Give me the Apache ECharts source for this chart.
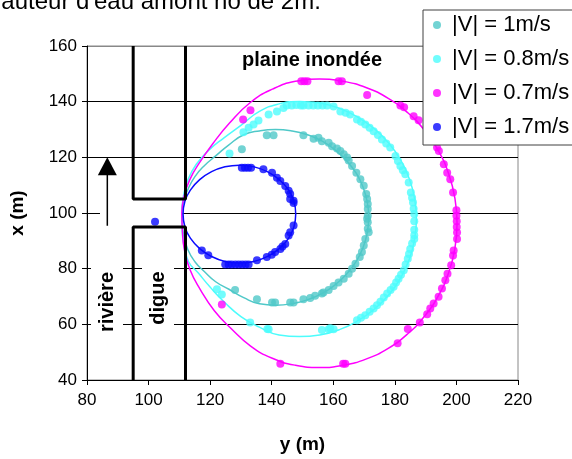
<!DOCTYPE html>
<html>
<head>
<meta charset="utf-8">
<script src="https://cdn.jsdelivr.net/npm/echarts@6/dist/echarts.min.js"></script>
<style>
  html, body { margin: 0; padding: 0; background: #fff; }
  #main { width: 572px; height: 459px; }
</style>
</head>
<body>
<div id="main"></div>
<script>
// axes
var xTicks = [80, 100, 120, 140, 160, 180, 200, 220];
var yTicks = [40, 60, 80, 100, 120, 140, 160];

var names = ['|V| = 1m/s', '|V| = 0.8m/s', '|V| = 0.7m/s', '|V| = 1.7m/s'];

// mesures (points)
var pts1 = [[130.3,122.9],[138.4,127.9],[140.6,127.9],[150.3,127.9],[153.6,126.7],[155.2,127.0],[156.3,125.8],[158.5,125.2],[159.6,124.0],
  [161.2,123.2],[162.3,122.3],[163.4,121.1],[164.5,119.9],[165.0,118.9],[166.1,116.9],[167.5,114.5],[168.8,112.1],[169.9,109.8],
  [170.7,106.8],[171.0,105.0],[171.2,103.2],[171.2,101.4],[171.2,99.0],[171.0,97.9],[171.2,96.7],[171.2,94.3],[171.5,93.1],
  [170.4,90.7],[169.9,88.3],[169.3,86.0],[168.6,84.2],[167.2,81.8],[166.1,80.0],[165.0,78.2],[163.4,76.4],[161.7,75.0],
  [160.1,73.8],[158.5,72.3],[156.8,71.4],[156.3,71.1],[154.1,70.3],[152.5,69.5],[150.3,69.0],[147.1,67.8],[146.0,67.8],
  [141.1,67.8],[140.1,67.8],[135.2,69.0],[128.1,72.3]];
var pts08 = [[126.3,121.4],[130.8,129.0],[132.5,130.6],[134.1,131.8],[135.7,133.2],[139.0,135.4],[141.7,136.5],[143.8,137.7],
  [144.9,138.6],[146.5,138.6],[148.0,138.8],[149.5,138.6],[150.3,138.6],[152.0,138.6],[153.5,138.6],[155.0,138.6],[156.5,138.6],
  [158.0,138.6],[160.1,138.3],[162.3,136.5],[164.0,136.0],[165.5,135.4],[167.7,133.6],[169.0,132.8],[170.4,131.8],[171.8,130.6],
  [173.1,129.4],[174.5,128.0],[175.8,126.4],[177.2,125.0],[178.5,123.5],[180.2,120.5],[181.0,118.7],[181.8,116.9],[182.6,115.4],
  [183.4,113.9],[184.5,111.0],[185.2,107.4],[185.6,105.5],[185.9,103.8],[186.1,101.5],[186.3,99.6],[186.3,97.0],[186.3,94.0],
  [186.3,92.0],[186.3,90.7],[185.6,89.0],[185.0,87.1],[184.6,85.3],[184.2,83.6],[183.5,81.5],[182.9,79.4],[182.0,77.8],[181.2,76.4],
  [180.4,75.0],[179.6,73.5],[178.6,72.3],[177.5,71.1],[176.4,69.6],[175.3,68.1],[174.2,66.9],[173.1,65.7],[171.8,64.5],[170.4,63.3],
  [169.0,62.4],[167.7,61.5],[160.1,58.2],[159.0,58.6],[158.5,58.2],[156.3,58.0],[139.0,58.2],[138.6,58.3],[133.0,60.7],[123.8,70.7],[122.2,72.6]];
var pts07 = [[130.7,133.6],[133.1,136.9],[149.6,147.3],[150.6,147.3],[151.6,147.3],[161.7,147.3],[162.8,147.3],[171.0,142.4],
  [181.8,138.6],[183.0,138.0],[186.1,134.8],[187.7,133.3],[193.7,123.5],[194.3,122.3],[195.9,117.5],[197.0,114.5],[198.0,112.1],
  [198.9,107.4],[200.0,101.0],[200.0,99.0],[200.1,97.0],[200.1,95.0],[200.2,93.0],[200.2,90.7],[199.1,86.5],[198.9,84.7],
  [198.3,81.2],[197.1,78.2],[196.4,75.8],[195.3,72.9],[194.2,69.9],[192.6,67.5],[191.5,65.7],[190.5,63.6],[188.1,60.7],
  [184.2,58.3],[180.9,53.2],[163.9,45.8],[163.2,45.8],[142.8,45.8],[123.8,67.1]];
var pts17 = [[102.1,96.9],[117.3,86.5],[119.4,84.8],[124.9,81.5],[126.0,81.5],[127.0,81.5],[128.2,81.5],[129.3,81.5],[130.4,81.5],
  [131.5,81.5],[132.5,81.5],[135.2,83.0],[138.4,84.2],[140.0,85.0],[141.1,86.0],[142.8,87.1],[143.5,88.0],[144.4,88.9],
  [145.5,91.9],[146.0,93.1],[147.1,95.5],[147.1,103.6],[147.1,104.4],[146.0,105.0],[146.0,106.8],[145.5,108.0],[144.4,109.7],
  [142.8,111.5],[141.7,112.7],[140.1,114.5],[137.3,115.7],[133.3,116.3],[132.3,116.3],[131.3,116.3],[130.3,116.3]];

// courbes ajustees
var curve1 = [[110.8,100],[111.3,104],[112.8,108.5],[115.0,113],[118.1,117],[121.8,120.5],[126.1,124.5],[130.9,128.1],
  [136.0,129.5],[141.25,130.0],[146.5,129.5],[151.6,128.1],[156.4,125.8],[160.7,122.6],[164.4,118.7],[167.5,114.2],
  [169.7,109.2],[171.05,103.9],[171.5,98.45],[171.05,93.0],[169.7,87.7],[167.5,82.7],[164.4,78.2],[160.7,74.3],[156.4,71.1],
  [151.6,68.8],[146.5,67.4],[141.25,66.9],[136.0,67.4],[130.9,69.6],[126.1,72.6],[121.8,75.3],[118.1,79.0],[115.05,82.5],
  [112.7,87.0],[111.3,92.5],[110.8,100]];
var curve08 = [[110.8,100],[111.3,106],[112.8,112],[115.5,117.5],[119.5,122.5],[124.5,127],[130,131.5],[136,136.5],[142.4,139.2],
  [149,140.1],[155.6,139.5],[162,137.6],[168,134.4],[173.4,130.2],[178.1,125.0],[181.9,119.0],[184.7,112.3],[186.4,105.2],
  [187,97.85],[186.4,90.5],[184.7,83.4],[181.9,76.7],[178.1,70.7],[173.4,65.5],[168,61.3],[162,58.1],[155.6,56.2],[149,55.6],
  [142.4,56.2],[136,59],[130,62.8],[124.6,68],[119.9,73.5],[116.1,78.5],[113,82.5],[111.4,89],[110.9,94],[110.8,100]];
var curve07 = [[110.8,100],[111.5,106],[113.4,112],[116.5,118],[120.8,124.8],[126.3,132.3],[133.15,139.8],[140.2,144.5],
  [147.7,147.3],[155.5,148.1],[163.3,147.3],[170.8,145.0],[177.85,141.2],[184.2,136.0],[189.7,129.6],[194.2,122.2],
  [197.5,114.0],[199.5,105.3],[200.2,96.3],[199.5,87.3],[197.5,78.6],[194.2,70.4],[189.7,63.0],[184.2,56.6],[177.85,51.4],
  [170.8,47.6],[163.3,45.3],[155.5,44.5],[147.7,45.3],[140.2,47.8],[133.15,52.2],[126.8,58.5],[121.3,65],[116.8,72.5],
  [113.5,79.5],[111.6,87],[111,93.5],[110.8,100]];
var curve17 = [[111.2,99.6],[111.8,104.2],[113.7,108.4],[116.6,112.0],[120.4,114.8],[124.8,116.6],[129.5,117.2],[134.2,116.6],
  [138.7,114.8],[142.4,112.0],[145.4,108.4],[147.2,104.2],[147.8,99.6],[147.2,95.0],[145.4,90.8],[142.4,87.2],[138.7,84.4],
  [134.2,82.6],[129.5,82.0],[124.8,82.6],[120.4,84.4],[116.6,87.2],[113.7,90.8],[111.8,95.0],[111.2,99.6]];

// digue et fleche
var digueHaut = [[95,160],[95,105],[112,105],[112,160]];
var digueBas = [[95,40],[95,95],[112,95],[112,40]];
var fleche = [[86.6,95.4],[86.6,116.8]];

var colors = ['#4fc8c8', '#4dfcfc', '#ff00ff', '#0a0aff'];
var pts = [pts1, pts08, pts07, pts17];
var curves = [curve1, curve08, curve07, curve17];

var myChart = echarts.init(document.getElementById('main'));

var series = [];
curves.forEach(function (c, i) {
  series.push({
    name: 'fit' + i, type: 'line', data: c, smooth: 0.5, showSymbol: false,
    lineStyle: { color: colors[i], width: 1.5 }, z: 2, silent: true
  });
});
pts.forEach(function (p, i) {
  series.push({
    name: names[i], type: 'scatter', data: p, symbol: 'circle', symbolSize: 8,
    itemStyle: { color: colors[i] }, z: 3
  });
});
[digueHaut, digueBas].forEach(function (d) {
  series.push({
    type: 'line', data: d, showSymbol: false,
    lineStyle: { color: '#000', width: 3 }, z: 4, silent: true
  });
});
series.push({
  type: 'line', z: 4, silent: true,
  data: [{ value: fleche[0], symbol: 'none' }, { value: fleche[1], symbol: 'triangle', symbolSize: [19, 18] }],
  lineStyle: { color: '#000', width: 1.5 }, itemStyle: { color: '#000' }
});

myChart.setOption({
  backgroundColor: '#fff',
  animation: false,
  textStyle: { fontFamily: 'Liberation Sans' },
  grid: { left: 87, top: 46, right: 54, bottom: 77, show: true, borderColor: '#888', borderWidth: 1 },
  legend: {
    data: names, orient: 'vertical', left: 423, top: 10,
    padding: [3, 40, 6, 10], itemGap: 10, itemWidth: 14, itemHeight: 8, icon: 'circle',
    borderColor: '#404040', borderWidth: 1, borderRadius: 0, backgroundColor: '#fff',
    textStyle: { fontSize: 22, color: '#000', lineHeight: 24, padding: [0, 0, 0, 3] },
    selectedMode: false, z: 10
  },
  xAxis: {
    type: 'value', min: xTicks[0], max: xTicks[xTicks.length - 1], interval: 20,
    name: 'y (m)', nameLocation: 'middle', nameGap: 55,
    nameTextStyle: { fontSize: 19, fontWeight: 'bold', color: '#000' },
    axisLine: { lineStyle: { color: '#000', width: 1 } },
    axisTick: { length: 5, lineStyle: { color: '#000' } },
    axisLabel: { fontSize: 17, color: '#000', margin: 12 },
    splitLine: { show: false }
  },
  yAxis: {
    type: 'value', min: yTicks[0], max: yTicks[yTicks.length - 1], interval: 20,
    name: 'x (m)', nameLocation: 'middle', nameGap: 60, nameRotate: 90,
    nameTextStyle: { fontSize: 19, fontWeight: 'bold', color: '#000' },
    axisLine: { show: true, lineStyle: { color: '#000', width: 1 } },
    axisTick: { show: true, length: 5, lineStyle: { color: '#000' } },
    axisLabel: { fontSize: 17, color: '#000', margin: 10 },
    splitLine: { show: true, lineStyle: { color: ['#000', '#000', '#000', '#000', '#000', '#000', '#888'], width: 1 } }
  },
  graphic: [
    // cache blanc sur la ligne 100 dans la breche
    { type: 'rect', z: 1, shape: { x: 100, y: 212, width: 81, height: 6 }, style: { fill: '#fff' }, silent: true },
    { type: 'text', x: -16, y: 2, style: { text: "Hauteur d'eau amont ho de 2m.", font: '24px "Liberation Sans"', fill: '#000', verticalAlign: 'middle' } },
    { type: 'text', x: 312, y: 60, z: 5, style: { text: 'plaine inondée', font: 'bold 20px "Liberation Sans"', fill: '#000', align: 'center', verticalAlign: 'middle' } },
    { type: 'text', x: 107, y: 302, rotation: Math.PI / 2, z: 5, style: { text: 'rivière', font: 'bold 20px "Liberation Sans"', fill: '#000', align: 'center', verticalAlign: 'middle', backgroundColor: '#fff', padding: [6, 4] } },
    { type: 'text', x: 158, y: 298, rotation: Math.PI / 2, z: 5, style: { text: 'digue', font: 'bold 20px "Liberation Sans"', fill: '#000', align: 'center', verticalAlign: 'middle', backgroundColor: '#fff', padding: [6, 4] } }
  ],
  series: series
});
</script>
</body>
</html>
